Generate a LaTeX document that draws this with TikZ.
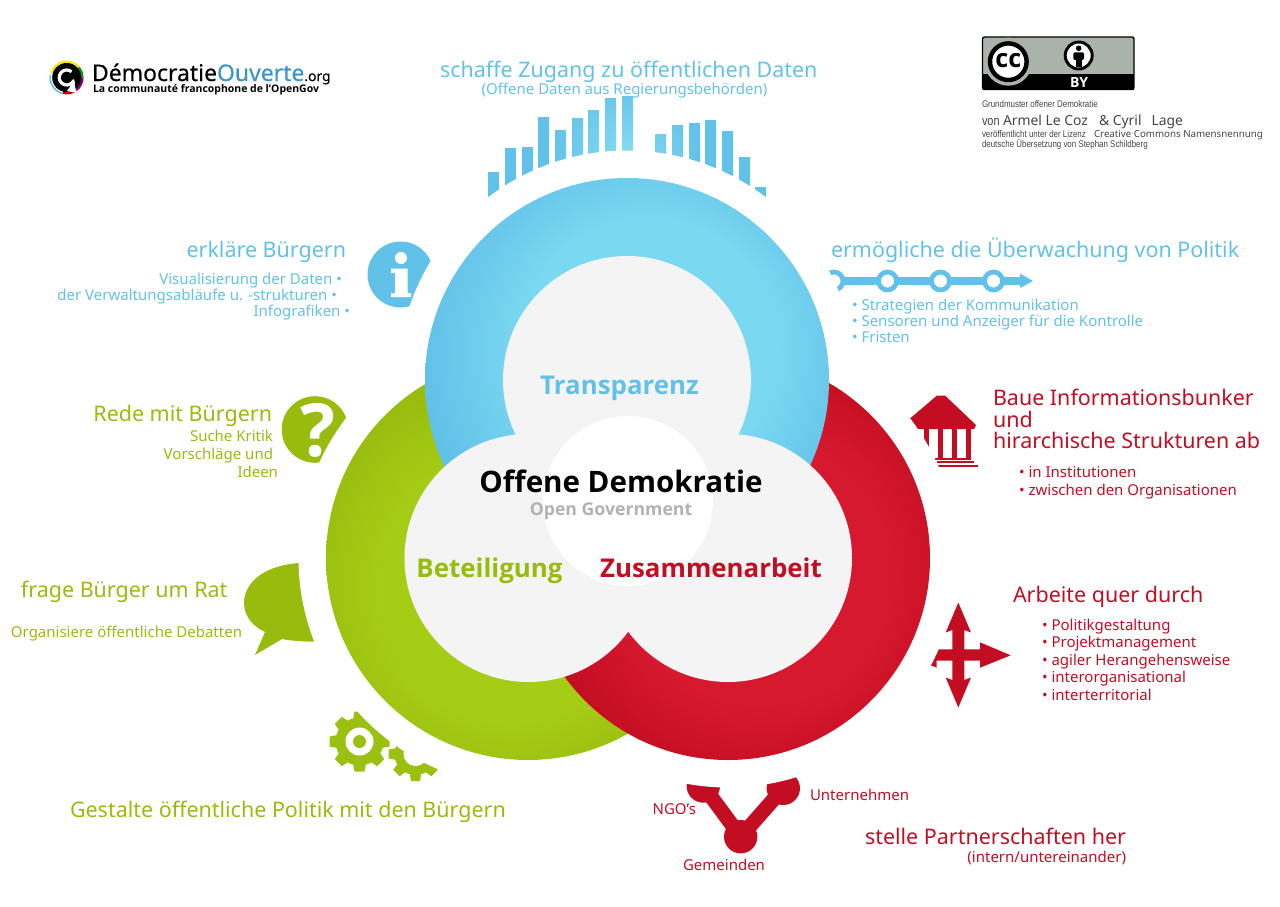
\documentclass[tikz,border=0pt]{standalone}
\usepackage{fontspec}
\setmainfont{Noto Sans}[BoldFont={Open Sans Bold}]
\newfontfamily\narrowfont[FakeStretch=0.82]{Liberation Sans}
\definecolor{cblue}{HTML}{62C1E8}
\definecolor{cblueL}{HTML}{7AD8F1}
\definecolor{cbarL}{HTML}{86DDF1}
\definecolor{cgreen}{HTML}{98BB0E}
\definecolor{cgreenL}{HTML}{A6CD16}
\definecolor{cgear}{HTML}{9BC011}
\definecolor{cred}{HTML}{C30D22}
\definecolor{credL}{HTML}{D7192F}
\definecolor{ccore}{HTML}{F4F4F4}
\definecolor{cgrey}{HTML}{AAB2AB}
\definecolor{cink}{HTML}{444444}
\definecolor{lblue}{HTML}{3A94D0}
\pgfdeclareradialshading{ringblue}{\pgfpoint{4bp}{6bp}}{color(0bp)=(cblueL); color(16bp)=(cblueL); color(27bp)=(cblue); color(50bp)=(cblue)}
\pgfdeclareradialshading{ringgreen}{\pgfpoint{-3bp}{-6bp}}{color(0bp)=(cgreenL); color(16bp)=(cgreenL); color(27bp)=(cgreen); color(50bp)=(cgreen)}
\pgfdeclareradialshading{ringred}{\pgfpoint{6bp}{-3bp}}{color(0bp)=(credL); color(16bp)=(credL); color(27bp)=(cred); color(50bp)=(cred)}
\pgfdeclareradialshading{barglow}{\pgfpoint{0bp}{0bp}}{color(0bp)=(cbarL); color(12bp)=(cblue); color(50bp)=(cblue)}
\begin{document}
\begin{tikzpicture}[x=0.75pt,y=-0.75pt]
	\tikzstyle{every node}=[inner sep=0pt,outer sep=0pt]
	\tikzstyle{gap}=[fill=white]
	\tikzstyle{core}=[fill=ccore]
	\tikzstyle{ltxt}=[anchor=base west,align=left]
	\tikzstyle{rtxt}=[anchor=base east,align=right]
	\tikzstyle{mtxt}=[anchor=base,align=center]
	\tikzstyle{head}=[font=\fontsize{16.1pt}{16.1pt}\selectfont]
	\tikzstyle{body}=[font=\fontsize{11.25pt}{12pt}\selectfont]
	\tikzstyle{word}=[font=\bfseries\fontsize{19.4pt}{19.4pt}\selectfont]
	\tikzstyle{tiny}=[font=\narrowfont\fontsize{7.25pt}{8pt}\selectfont,text=cink]
	\useasboundingbox (0,0) rectangle (1280,906);

	\begin{scope}
		\clip \foreach \bx/\by in {488/172,505/148,522/147,538/117,555/130,572/118,588/110,605/98,622/96,655/134,672/125,689/123,705/120,722/131,739/157,755/187} {(\bx,\by) rectangle (\bx+11,235)};
		\shade[shading=barglow] (625,155) circle (160);
	\end{scope}

	\fill[cblue] (400.5,274.5) circle (33);
	\fill[white] (401,258) circle (6);
	\fill[white] (391,268.5) -- (407.5,268.5) -- (407.5,293) -- (411,293) -- (411,297) -- (391,297) -- (391,293) -- (395,293) -- (395,273) -- (391,273) -- cycle;

	\draw[cblue,line width=6] (834,281) -- (1022,281);
	\fill[cblue] (1020,273.5) -- (1033,281) -- (1020,288) -- cycle;
	\foreach \rx in {834,887.5,940.5,993.5}
		\draw[cblue,line width=3.6,fill=white] (\rx,281) circle (9);

	\fill[cgreen] (315,429.5) circle (33.3);
	\fill[cgreen] (300,563) .. controls (265,565) and (244,582) .. (244,603) .. controls (244,617) and (254,627) .. (265,632) -- (255,655) -- (282,639) .. controls (292,641) and (305,642) .. (340,642) -- (340,555) -- cycle;

	\foreach \a in {0,45,...,315} {
		\fill[cgear,rotate around={\a:(359.5,741.5)}] (354.5,711.5) -- (364.5,711.5) -- (366.5,722) -- (352.5,722) -- cycle;
	}
	\fill[cgear] (359.5,741.5) circle (24);
	\fill[white] (359.5,741.5) circle (14);
	\fill[cgear] (359.5,741.5) circle (6.5);
	\foreach \a in {0,45,...,315} {
		\fill[cgear,rotate around={\a:(415.5,754)}] (411,727) -- (420,727) -- (421.5,736) -- (409.5,736) -- cycle;
	}
	\fill[cgear] (415.5,754) circle (21);
	\fill[white] (415.5,754) circle (12);

	\fill[cred] (937,395.5) -- (945,395.5) -- (976,425) -- (974,429) -- (900,429) -- (900,427) -- cycle;
	\foreach \cx in {923.5,937.5,951.5,965.5}
		\fill[cred] (\cx,429) rectangle (\cx+5,457.5);
	\fill[cred] (935,458) rectangle (971,459.5);
	\fill[cred] (936.5,461) rectangle (974,462.5);
	\fill[cred] (938,465) rectangle (978,466.5);

	\fill[cred] (958.3,602.5) -- (971,632.5) -- (964.3,630) -- (964.3,649.3) -- (980,649.3) -- (980,642.3) -- (1010.7,655.3) -- (980,667.7) -- (980,660.7) -- (964.3,660.7) -- (964.3,680) -- (971,677.5) -- (958.3,707.5) -- (945.7,677.5) -- (952.3,680) -- (952.3,660.7) -- (936.7,660.7) -- (936.7,667.7) -- (906,655.3) -- (936.7,642.3) -- (936.7,649.3) -- (952.3,649.3) -- (952.3,630) -- (945.7,632.5) -- cycle;

	\coordinate (hubM) at (740.7,836.7);
	\coordinate (hubL) at (703.3,786);
	\coordinate (hubR) at (783.3,788.3);
	\draw[cred,line width=11] (hubM) -- (hubL);
	\draw[cred,line width=11] (hubM) -- (hubR);
	\fill[cred] (hubM) circle (16.7);
	\fill[cred] (hubL) circle (16.7);
	\fill[cred] (hubR) circle (16.7);

	\fill[gap] (627,380) circle (229.5);
	\fill[gap] (528,558) circle (229.5);
	\fill[gap] (728,558) circle (229.5);

	\shade[shading=ringgreen] (528,558) circle (202);
	\shade[shading=ringred] (728,558) circle (202);
	\shade[shading=ringblue] (627,380) circle (202);
	\fill[core] (627,380) circle (124);
	\fill[core] (528.5,558) circle (124);
	\fill[core] (728,558) circle (124);
	\fill[white] (628,501) circle (85);

	\node[mtxt,word,text=cblue] (transparenz) at (619.5,394.5) {Transparenz};
	\node[mtxt,word,text=cgreen] (beteiligung) at (489.5,577.5) {Beteiligung};
	\node[mtxt,word,text=cred] (zusammenarbeit) at (711,577.5) {Zusammenarbeit};
	\node[mtxt,font=\bfseries\fontsize{22.15pt}{22.15pt}\selectfont] (demokratie) at (621,492.5) {Offene Demokratie};
	\node[mtxt,font=\bfseries\fontsize{13.25pt}{13.25pt}\selectfont,text=black!30] (opengov) at (611,515) {Open Government};

	\node[ltxt,head,text=cblue] (zugang) at (440,78) {schaffe Zugang zu öffentlichen Daten};
	\node[mtxt,body,text=cblue] (zugangsub) at (624.5,94) {(Offene Daten aus Regierungsbehörden)};
	\node[rtxt,head,text=cblue] (erklaere) at (346,257) {erkläre Bürgern};
	\node[rtxt,body,text=cblue] (infoa) at (342,284) {Visualisierung der Daten •};
	\node[rtxt,body,text=cblue] (infob) at (337,300) {der Verwaltungsabläufe u. -strukturen •};
	\node[rtxt,body,text=cblue] (infoc) at (350,316) {Infografiken •};
	\node[ltxt,head,text=cblue] (ueberwachung) at (831,257) {ermögliche die Überwachung von Politik};
	\node[ltxt,body,text=cblue] (kontrolle) at (852,342) {• Strategien der Kommunikation\\• Sensoren und Anzeiger für die Kontrolle\\• Fristen};

	\node[ltxt,head,text=cred] (bunker) at (993,448.5) {Baue Informationsbunker\\und\\hirarchische Strukturen ab};
	\node[ltxt,body,text=cred,font=\fontsize{11.25pt}{13.3pt}\selectfont] (institution) at (1019,495) {• in Institutionen\\• zwischen den Organisationen};
	\node[ltxt,head,text=cred] (quer) at (1013,602) {Arbeite quer durch};
	\node[ltxt,body,text=cred,font=\fontsize{11.25pt}{13.1pt}\selectfont] (quersub) at (1042,700) {• Politikgestaltung\\• Projektmanagement\\• agiler Herangehensweise\\• interorganisational\\• interterritorial};
	\node[rtxt,head,text=cred] (partner) at (1126,844) {stelle Partnerschaften her};
	\node[rtxt,body,text=cred] (partnersub) at (1126,862) {(intern/untereinander)};
	\node[ltxt,body,text=cred] (unternehmen) at (810,800) {Unternehmen};
	\node[rtxt,body,text=cred] (ngo) at (696,814) {NGO's};
	\node[mtxt,body,text=cred] (gemeinden) at (724,870) {Gemeinden};

	\node[ltxt,head,text=cgreen] (gestalte) at (70,817) {Gestalte öffentliche Politik mit den Bürgern};
	\node[ltxt,head,text=cgreen] (rat) at (21,597) {frage Bürger um Rat};
	\node[ltxt,body,text=cgreen] (debatten) at (11,637) {Organisiere öffentliche Debatten};
	\node[rtxt,head,text=cgreen] (rede) at (272,421) {Rede mit Bürgern};
	\node[rtxt,body,text=cgreen] (kritik) at (273,441) {Suche Kritik};
	\node[rtxt,body,text=cgreen] (vorschlag) at (273,459) {Vorschläge und};
	\node[rtxt,body,text=cgreen] (ideen) at (278,477) {Ideen};
	\node[mtxt,font=\bfseries\fontsize{55pt}{55pt}\selectfont,text=white] (frage) at (318,456) {?};

	\draw[yellow!90!orange,line width=2.2] (66.7,77.5) ++(-165:15.5) arc (-165:-40:15.5);
	\draw[green!60!black,line width=2.2] (66.7,77.5) ++(-40:15.5) arc (-40:0:15.5);
	\draw[violet,line width=2.2] (66.7,77.5) ++(0:15.5) arc (0:50:15.5);
	\draw[red!80!black,line width=2.2] (66.7,77.5) ++(50:15.5) arc (50:105:15.5);
	\draw[cblue,line width=1.2] (66.7,77.5) ++(105:16.5) arc (105:190:16.5);
	\fill[black] (66.7,77.5) circle (14.5);
	\draw[white,line width=2.4,-latex] (66.7,77.5) ++(-50:7.5) arc (-50:-350:7.5);
	\node[ltxt,font=\fontsize{17.2pt}{17.2pt}\addfontfeature{FakeBold=0.4}\selectfont] (logo) at (92,81) {Démocratie\textcolor{lblue}{Ouverte}{\fontsize{10.4pt}{10.4pt}\selectfont.org}};
	\node[ltxt,font=\bfseries\fontsize{7.85pt}{7.85pt}\selectfont] (logosub) at (93,92.5) {La communauté francophone de l'OpenGov};

	\fill[cgrey,draw=black,line width=1,rounded corners=1.5] (982.5,37) rectangle (1134,89.5);
	\fill[black] (982.5,74.5) rectangle (1134,89.5);
	\begin{scope}
		\clip (982.5,37) rectangle (1134,89.5);
		\fill[cgrey] (1008.3,61.7) circle (24);
	\end{scope}
	\draw[black,line width=3.3,fill=white] (1008.3,61.7) circle (18.3);
	\node[mtxt,font=\bfseries\fontsize{19pt}{19pt}\selectfont] (ccmark) at (1008.3,68) {cc};
	\draw[black,line width=2.2,fill=white] (1078.7,55.5) circle (13.5);
	\fill[black] (1078.7,48.3) circle (2.8);
	\fill[black,rounded corners=1] (1073.3,52.3) rectangle (1084,60);
	\fill[black] (1076,58) rectangle (1081.7,66.7);
	\node[mtxt,font=\bfseries\fontsize{10.5pt}{10.5pt}\selectfont,text=white] (bymark) at (1079,87) {BY};
	\node[ltxt,tiny] (creda) at (982,108) {Grundmuster offener Demokratie};
	\node[ltxt,font=\narrowfont\fontsize{10pt}{10pt}\selectfont,text=cink] (credb) at (982,125) {von};
	\node[ltxt,font=\fontsize{10.4pt}{10.4pt}\selectfont,text=cink] (credbb) at (1003,125) {Armel Le Coz\hspace{8.5pt}\& Cyril\hspace{7.5pt}Lage};
	\node[ltxt,tiny] (credc) at (982,137) {veröffentlicht unter der Lizenz};
	\node[ltxt,font=\fontsize{7.3pt}{7.3pt}\selectfont,text=cink] (credd) at (1094,137) {Creative Commons Namensnennung};
	\node[ltxt,tiny] (crede) at (982,147) {deutsche Übersetzung von Stephan Schildberg};
\end{tikzpicture}
\end{document}
